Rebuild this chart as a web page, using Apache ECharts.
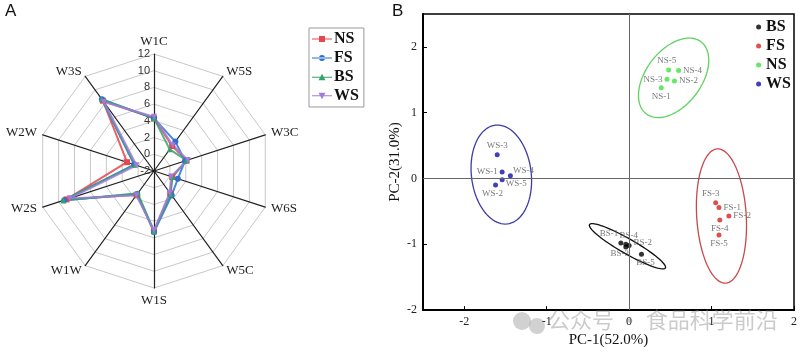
<!DOCTYPE html>
<html>
<head>
<meta charset="utf-8">
<script src="https://cdn.jsdelivr.net/npm/echarts@6/dist/echarts.min.js"></script>
<style>
  html, body { margin: 0; padding: 0; background: #fff; }
  #main { width: 800px; height: 353px; }
</style>
</head>
<body>
<div id="main"></div>
<script>
// A: 电子鼻雷达图 (传感器按图中顺时针顺序)
const sensors = ['W1C', 'W5S', 'W3C', 'W6S', 'W5C', 'W1S', 'W1W', 'W2S', 'W2W', 'W3S']
const radarNames = ['NS', 'FS', 'BS', 'WS']
const nsValues = [4.3, 1.7, 2.1, 0.3, 1.3, 5.2, 1.5, 9.0, 1.4, 8.4]
const fsValues = [4.3, 2.35, 1.9, 1.0, 1.6, 5.3, 1.4, 9.3, 0.5, 8.6]
const bsValues = [4.3, 1.2, 2.1, 0.3, 1.4, 5.2, 1.3, 9.4, 0.4, 8.6]
const wsValues = [4.5, 1.8, 2.25, 0.15, 1.2, 5.1, 1.6, 8.6, 0.2, 8.2]
const radarTicks = [-2, 12]

// B: PCA 得分
const groups = ['BS', 'FS', 'NS', 'WS']
const bsLabels = ['BS-1', 'BS-2', 'BS-3', 'BS-4', 'BS-5']
const bsX = [-0.10, 0.00, -0.04, -0.04, 0.15]
const bsY = [-0.98, -1.02, -1.04, -1.00, -1.15]
const fsLabels = ['FS-1', 'FS-2', 'FS-3', 'FS-4', 'FS-5']
const fsX = [1.09, 1.21, 1.05, 1.10, 1.09]
const fsY = [-0.44, -0.57, -0.37, -0.63, -0.86]
const nsLabels = ['NS-1', 'NS-2', 'NS-3', 'NS-4', 'NS-5']
const nsX = [0.39, 0.55, 0.46, 0.60, 0.48]
const nsY = [1.38, 1.48, 1.51, 1.64, 1.65]
const wsLabels = ['WS-1', 'WS-2', 'WS-3', 'WS-4', 'WS-5']
const wsX = [-1.54, -1.62, -1.60, -1.44, -1.54]
const wsY = [0.10, -0.10, 0.36, 0.04, -0.02]
// 置信椭圆: 中心, 半长轴向量, 半短轴向量 (数据单位)
const ellipseCenter = [[-0.02, -1.03], [1.12, -0.57], [0.54, 1.53], [-1.55, 0.06]]
const ellipseMajor = [[0.46, -0.33], [-0.05, 1.02], [0.33, 0.55], [-0.073, 0.75]]
const ellipseMinor = [[-0.046, -0.097], [0.30, 0.02], [0.27, -0.25], [0.36, 0.054]]
const pcTicks = [-2, -1, 0, 1, 2]

const radarColors = ['#e5474d', '#2f6fd3', '#35a36c', '#a07ddb']
const radarSymbols = ['rect', 'circle', 'triangle', 'path://M0,0L10,0L5,9Z']
const legendIcons = [
  'path://M0,4.4h20v1.2H0z M7,2h6v6H7z',
  'path://M0,4.4h20v1.2H0z M10,2a3,3 0 1,0 0.01,0z',
  'path://M0,4.4h20v1.2H0z M10,1.5L13.5,8H6.5z',
  'path://M0,4.4h20v1.2H0z M6.5,2H13.5L10,8.5z'
]
const groupColors = ['#000000', '#d42424', '#3ee33e', '#1010a8']
const ellipseColors = ['#111111', '#c9484c', '#5fd35f', '#3c3ca6']
// 点标签位置与微调偏移
const labelPos = [
  ['left', 'right', 'bottom', 'top', 'bottom'],
  ['right', 'right', 'top', 'bottom', 'bottom'],
  ['bottom', 'right', 'left', 'right', 'top'],
  ['left', 'bottom', 'top', 'right', 'right']
]
const labelOffset = [
  [[2, -9], [0, -3], [-6, -2], [3, 0], [4, -1]],
  [[0, 0], [0, 0], [-5, 0], [0, 0], [0, 0]],
  [[0, 0], [0, 0], [0, 0], [0, 0], [-2, 0]],
  [[0, 0], [-3, 0], [0, 0], [-2, -5], [-1, 4]]
]
const pcaData = [[bsLabels, bsX, bsY], [fsLabels, fsX, fsY], [nsLabels, nsX, nsY], [wsLabels, wsX, wsY]]

// 雷达图默认逆时针排布, 这里反转后面的顺序使其顺时针
const order = [0].concat(sensors.slice(1).map((s, i) => sensors.length - 1 - i))
const reorder = arr => order.map(i => arr[i])
const radarSeriesValues = [nsValues, fsValues, bsValues, wsValues]

const serif = 'Liberation Serif'
const chart = echarts.init(document.getElementById('main'))

const option = {
  animation: false,
  backgroundColor: '#fff',
  graphic: [
    { type: 'text', left: 5, top: 3, style: { text: 'A', font: '17px "Liberation Sans"', fill: '#111' } },
    { type: 'text', left: 392, top: 3, style: { text: 'B', font: '17px "Liberation Sans"', fill: '#111' } },
    { type: 'circle', shape: { cx: 522, cy: 321, r: 9 }, style: { fill: 'rgba(140,140,140,0.4)' }, z: 100 },
    { type: 'circle', shape: { cx: 537, cy: 326, r: 8 }, style: { fill: 'rgba(140,140,140,0.4)' }, z: 100 },
    { type: 'text', left: 548, top: 309, z: 100,
      style: { text: '公众号 · 食品科学前沿', font: '22px "Noto Sans CJK SC"', fill: 'rgba(140,140,140,0.45)' } }
  ],
  legend: [
    {
      data: radarNames.map((n, i) => ({ name: n, icon: legendIcons[i], itemStyle: { color: radarColors[i] } })),
      orient: 'vertical', left: 309, top: 28,
      borderColor: '#999', borderWidth: 1, padding: [3, 5, 3, 3], itemGap: 3,
      itemWidth: 20, itemHeight: 9,
      textStyle: { fontFamily: serif, fontWeight: 'bold', fontSize: 16, color: '#111', padding: [0, 0, 0, -3] }
    },
    {
      data: groups.map(g => g + '-pca'),
      formatter: name => name.split('-')[0],
      orient: 'vertical', right: 4, top: 14, itemGap: 3,
      icon: 'circle', itemWidth: 5, itemHeight: 5,
      textStyle: { fontFamily: serif, fontWeight: 'bold', fontSize: 16, color: '#111' }
    }
  ],
  radar: {
    center: [154, 171],
    radius: 117,
    startAngle: 90,
    splitNumber: 7,
    shape: 'polygon',
    indicator: reorder(sensors).map((s, i) => ({
      name: s, min: radarTicks[0], max: radarTicks[1],
      axisLabel: i === 0 ? { show: true } : undefined
    })),
    axisName: { color: '#222', fontFamily: serif, fontSize: 13 },
    nameGap: 6,
    axisLine: { lineStyle: { color: '#222', width: 1.2 } },
    splitLine: { lineStyle: { color: '#c8c8c8', width: 1 } },
    splitArea: { show: false },
    axisLabel: { show: false, color: '#333', fontSize: 11, fontFamily: 'Liberation Sans', margin: 4 }
  },
  grid: {
    left: 423, right: 5, top: 14, bottom: 39,
    show: true, borderColor: '#000', borderWidth: 1.5
  },
  xAxis: {
    type: 'value', min: -2.5, max: 2,
    name: 'PC-1(52.0%)', nameLocation: 'middle', nameGap: 22,
    nameTextStyle: { fontFamily: serif, fontSize: 15, color: '#111' },
    splitLine: { show: false },
    axisLine: { onZero: false, lineStyle: { color: '#000', width: 2 } },
    axisTick: { inside: true, length: 4, customValues: pcTicks, lineStyle: { color: '#000' } },
    axisLabel: { customValues: pcTicks, fontFamily: serif, fontSize: 12, color: '#222', margin: 6 }
  },
  yAxis: {
    type: 'value', min: -2, max: 2.5,
    name: 'PC-2(31.0%)', nameLocation: 'middle', nameGap: 20,
    nameTextStyle: { fontFamily: serif, fontSize: 15, color: '#111' },
    splitLine: { show: false },
    axisLine: { onZero: false, lineStyle: { color: '#000', width: 2 } },
    axisTick: { inside: true, length: 4, customValues: pcTicks, lineStyle: { color: '#000' } },
    axisLabel: { customValues: pcTicks, fontFamily: serif, fontSize: 12, color: '#222', margin: 6 }
  },
  series: [
    {
      type: 'radar',
      symbolSize: 6,
      data: radarNames.map((n, i) => ({
        name: n,
        value: reorder(radarSeriesValues[i]),
        symbol: radarSymbols[i],
        itemStyle: { color: radarColors[i] },
        lineStyle: { color: radarColors[i], width: 2, opacity: 0.85 }
      }))
    },
    ...groups.map((g, gi) => ({
      type: 'custom',
      name: g + '-ellipse',
      silent: true,
      data: [[ellipseCenter[gi][0], ellipseCenter[gi][1], ellipseMajor[gi][0], ellipseMajor[gi][1], ellipseMinor[gi][0], ellipseMinor[gi][1]]],
      encode: { x: 0, y: 1 },
      renderItem(params, api) {
        const cx = api.value(0), cy = api.value(1)
        const ux = api.value(2), uy = api.value(3), vx = api.value(4), vy = api.value(5)
        const pts = []
        for (let k = 0; k < 90; k++) {
          const t = k / 90 * Math.PI * 2
          pts.push(api.coord([cx + ux * Math.cos(t) + vx * Math.sin(t), cy + uy * Math.cos(t) + vy * Math.sin(t)]))
        }
        return { type: 'polygon', shape: { points: pts }, style: { fill: 'none', stroke: ellipseColors[gi], lineWidth: 1.3 } }
      }
    })),
    ...groups.map((g, gi) => ({
      type: 'scatter',
      name: g + '-pca',
      symbolSize: 5,
      itemStyle: { color: groupColors[gi] },
      label: { show: true, fontFamily: serif, fontSize: 9, color: '#555', distance: 2 },
      data: pcaData[gi][0].map((lab, k) => ({
        value: [pcaData[gi][1][k], pcaData[gi][2][k]],
        label: { position: labelPos[gi][k], offset: labelOffset[gi][k], formatter: lab }
      })),
      markLine: gi === 0 ? {
        silent: true, symbol: 'none', label: { show: false },
        lineStyle: { color: '#666', width: 1, type: 'solid' },
        data: [{ xAxis: 0 }, { yAxis: 0 }]
      } : undefined
    }))
  ]
}
chart.setOption(option)
</script>
</body>
</html>
